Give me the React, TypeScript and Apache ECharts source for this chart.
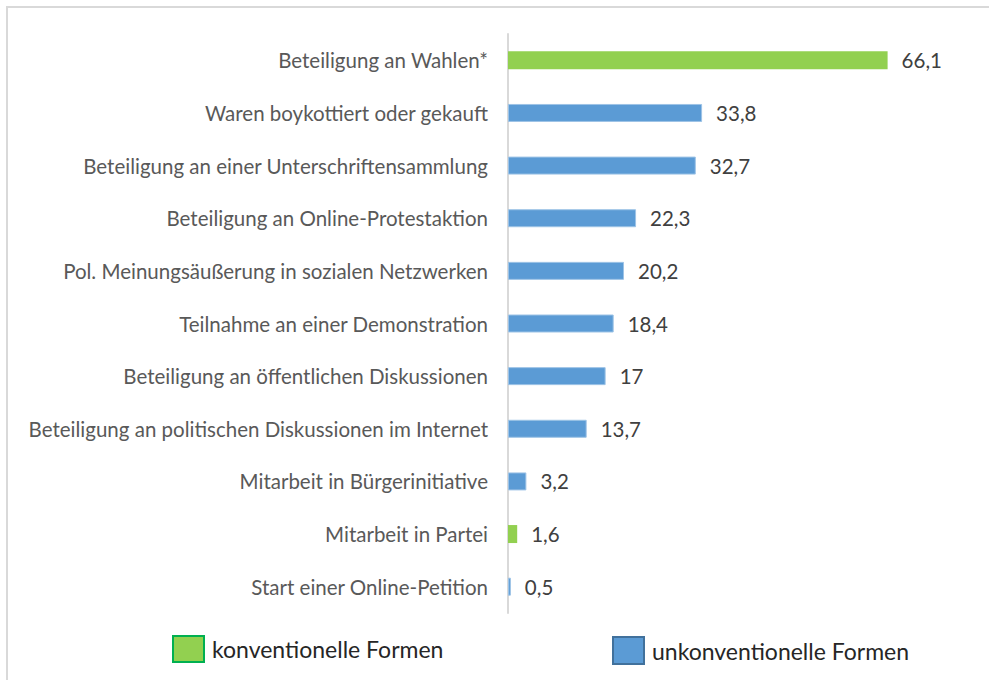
import React, { useEffect, useRef } from "react";
import * as echarts from "echarts";

const categories = [
  "Beteiligung an Wahlen*",
  "Waren boykottiert oder gekauft",
  "Beteiligung an einer Unterschriftensammlung",
  "Beteiligung an Online-Protestaktion",
  "Pol. Meinungsäußerung in sozialen Netzwerken",
  "Teilnahme an einer Demonstration",
  "Beteiligung an öffentlichen Diskussionen",
  "Beteiligung an politischen Diskussionen im Internet",
  "Mitarbeit in Bürgerinitiative",
  "Mitarbeit in Partei",
  "Start einer Online-Petition",
];

const konventionell: (number | null)[] = [66.1, null, null, null, null, null, null, null, null, 1.6, null];
const unkonventionell: (number | null)[] = [null, 33.8, 32.7, 22.3, 20.2, 18.4, 17, 13.7, 3.2, null, 0.5];

const seriesNames = ["konventionelle Formen", "unkonventionelle Formen"];

const FONT = "Lato, 'Open Sans', sans-serif";

export default function App() {
  const ref = useRef<HTMLDivElement>(null);
  useEffect(() => {
    if (!ref.current) return;
    const chart = echarts.init(ref.current, null, { renderer: "svg" });
    const label = {
      show: true,
      position: "right" as const,
      distance: 14,
      color: "#404040",
      fontSize: 20.5,
      fontFamily: FONT,
      formatter: (p: any) => String(p.value).replace(".", ","),
    };
    chart.setOption({
      animation: false,
      backgroundColor: "#ffffff",
      graphic: [
        {
          type: "rect",
          shape: { x: 7, y: 7, width: 1000, height: 700 },
          style: { fill: "none", stroke: "#D9D9D9", lineWidth: 2 },
          silent: true,
        },
      ],
      grid: { left: 508, right: 79, top: 34, bottom: 67, containLabel: false },
      xAxis: {
        type: "value",
        min: 0,
        max: 70,
        show: false,
      },
      yAxis: {
        type: "category",
        data: categories,
        inverse: true,
        axisLine: { show: true, lineStyle: { color: "#D9D9D9", width: 2 } },
        axisTick: { show: false },
        axisLabel: {
          color: "#595959",
          fontSize: 20.5,
          fontFamily: FONT,
          margin: 20,
        },
      },
      legend: [
        {
          left: 172,
          top: 635,
          padding: 0,
          itemWidth: 31,
          itemHeight: 26,
          itemGap: 0,
          icon: "rect",
          textStyle: { color: "#262626", fontSize: 23, fontFamily: FONT, padding: [0, 0, 0, 3] },
          data: [{ name: seriesNames[0], itemStyle: { color: "#92D050", borderColor: "#00B050", borderWidth: 2 } }],
          selectedMode: false,
        },
        {
          left: 612,
          top: 636,
          padding: 0,
          itemWidth: 31,
          itemHeight: 27,
          itemGap: 0,
          icon: "rect",
          textStyle: { color: "#262626", fontSize: 23, fontFamily: FONT, padding: [0, 0, 0, 3] },
          data: [{ name: seriesNames[1], itemStyle: { color: "#5B9BD5", borderColor: "#41719C", borderWidth: 2 } }],
          selectedMode: false,
        },
      ],
      series: [
        {
          name: seriesNames[0],
          type: "bar",
          data: konventionell,
          barWidth: 18,
          barGap: "-100%",
          itemStyle: { color: "#92D050" },
          label,
        },
        {
          name: seriesNames[1],
          type: "bar",
          data: unkonventionell,
          barWidth: 18,
          barGap: "-100%",
          itemStyle: { color: "#5B9BD5", borderColor: "#9DC3E6", borderWidth: 1 },
          label,
        },
      ],
    });
    return () => chart.dispose();
  }, []);
  return (
    <div
      ref={ref}
      style={{ position: "absolute", left: 0, top: 0, width: 989, height: 680 }}
    />
  );
}
